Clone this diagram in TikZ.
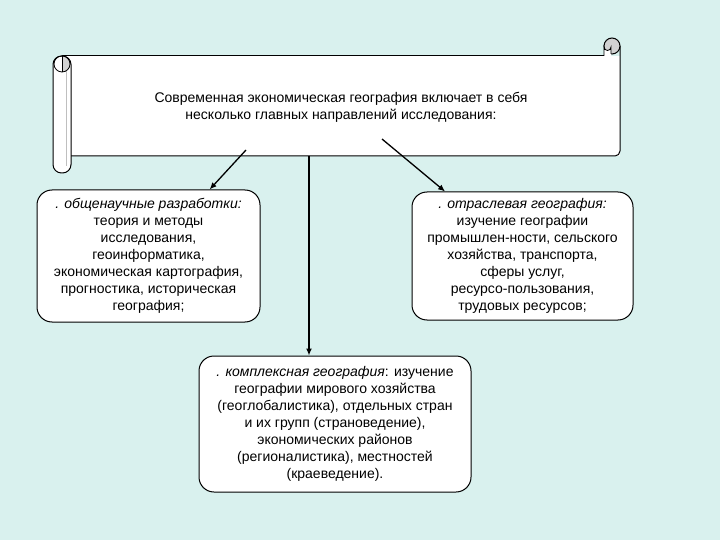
\documentclass[tikz,border=0pt]{standalone}
\usepackage{fontspec}
\setmainfont{Liberation Sans}
\usetikzlibrary{arrows.meta}

\definecolor{bgcol}{RGB}{217,241,238}
\tikzset{
	branch/.style={draw, line width=1pt, fill=white, rounded corners=15pt, align=center,
		inner sep=0pt, font=\fontsize{14}{17}\selectfont},
	link/.style={line width=1.3pt, -{Latex[length=7pt,width=6pt]}}
}

\begin{document}
\begin{tikzpicture}[x=1pt, y=-1pt]
		\fill[bgcol] (0,0) rectangle (720,540);
		\useasboundingbox (0,0) rectangle (720,540);
		
		% scroll
		\fill[white] (62,56) rectangle (620,156);
		\draw[line width=1pt] (62,56) -- (604,56);
		\draw[line width=1pt, rounded corners=5pt] (620,46) -- (620,156) -- (62,156);
		\draw[line width=1pt, fill=gray!35] (612,46) circle (8);
		\fill[white] (604,47) -- (604,56) -- (611,56) -- (611,47) arc (0:180:3.5);
		\draw[line width=0.8pt] (604,56) -- (604,47) arc (180:0:3.5) -- (611,54);
		\draw[line width=1pt, fill=white, rounded corners=8.5pt] (53,56) rectangle (71,173);
		\draw[gray!50, line width=0.6pt] (66,66) -- (66,166);
		\fill[gray!35] (62,56) arc (-90:90:8) -- cycle;
		\draw[line width=0.8pt] (62,64) circle (8);
		\draw[line width=0.8pt] (62,56) -- (62,72);
		
		\node[align=center, font=\fontsize{14}{17}\selectfont] (title) at (341,107.5)
			{Современная экономическая география включает в себя\\ несколько главных направлений исследования:};
		
		\node[branch, minimum width=223pt, minimum height=132pt] (general) at (148.5,256)
			{\textit{. общенаучные разработки:}\\ теория и методы\\ исследования,\\ геоинформатика,\\
			экономическая картография,\\ прогностика, историческая\\ география;};
		\node[branch, minimum width=221pt, minimum height=128pt] (sector) at (522.5,256)
			{\textit{. отраслевая география:}\\ изучение географии\\ промышлен-ности, сельского\\
			хозяйства, транспорта,\\ сферы услуг,\\ ресурсо-пользования,\\ трудовых ресурсов;};
		\node[branch, minimum width=272pt, minimum height=136pt] (complex) at (335,424)
			{\textit{. комплексная география}: изучение\\ географии мирового хозяйства\\
			(геоглобалистика), отдельных стран\\ и их групп (страноведение),\\ экономических районов\\
			(регионалистика), местностей\\ (краеведение).};
		
		\coordinate (lstart) at (246,150);
		\coordinate (rstart) at (382,139);
		\coordinate (mstart) at (309,156);
		\draw[link] (lstart) -- (general);
		\draw[link] (rstart) -- (sector);
		\draw[link, line width=2pt] (mstart) -- (mstart |- complex.north);
	\end{tikzpicture}
\end{document}
